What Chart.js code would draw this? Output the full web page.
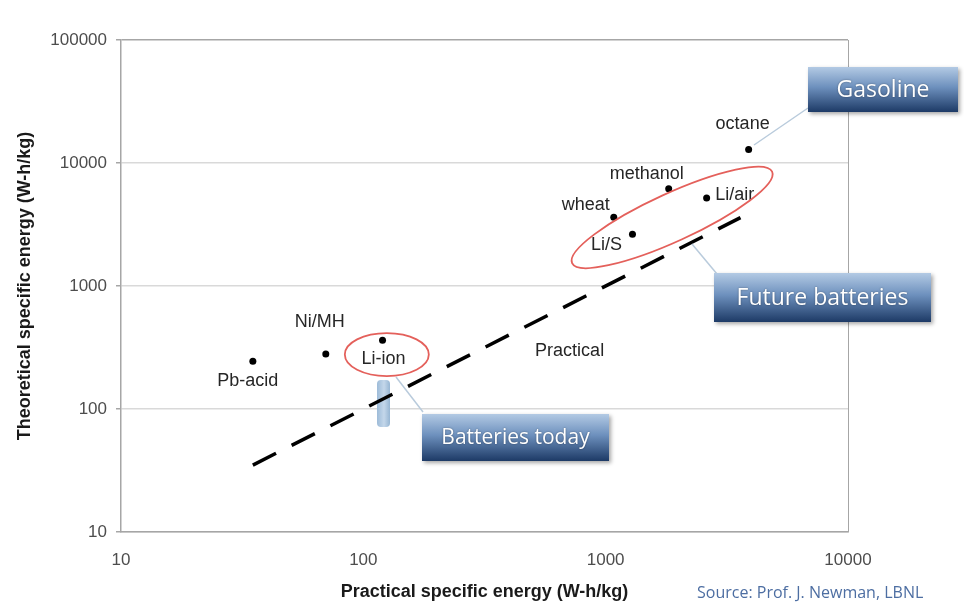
<!DOCTYPE html>
<html>
  <head>
    <title>Theoretical vs practical specific energy</title>
    <script src="https://cdn.jsdelivr.net/npm/chart.js"></script>
    <style>
      html, body { margin: 0; padding: 0; background: #fff; }
    </style>
  </head>

  <body>
    <canvas id="energyChart" width="964" height="609"></canvas>
    <script>
      // values
      var names = ["Pb-acid", "Ni/MH", "Li-ion", "wheat", "Li/S", "methanol", "Li/air", "octane"];
      var practical = [35, 70, 120, 1080, 1290, 1820, 2610, 3890];
      var theoretical = [245, 280, 363, 3630, 2640, 6170, 5190, 12900];
      var trendX = [35, 3600];
      var trendY = [35, 3600];
      var xTicks = [10, 100, 1000, 10000];
      var yTicks = [10, 100, 1000, 10000, 100000];

      var points = names.map(function (n, i) {
        return { x: practical[i], y: theoretical[i] };
      });
      var trend = trendX.map(function (x, i) {
        return { x: x, y: trendY[i] };
      });

      // where each label sits relative to its dot (px)
      var labelShift = {
        "Pb-acid": [-5, 20], "Ni/MH": [-6, -32], "Li-ion": [1, 19], "wheat": [-28, -12],
        "Li/S": [-26, 11], "methanol": [-22, -15], "Li/air": [28, -3], "octane": [-6, -25]
      };

      function drawBox(ctx, x, y, w, h, text, size) {
        ctx.save();
        ctx.shadowColor = "rgba(0,0,0,0.35)";
        ctx.shadowBlur = 4;
        ctx.shadowOffsetX = 2;
        ctx.shadowOffsetY = 2;
        var g = ctx.createLinearGradient(0, y, 0, y + h);
        g.addColorStop(0, "#b3cae4");
        g.addColorStop(0.45, "#6d90bd");
        g.addColorStop(1, "#1d3a66");
        ctx.fillStyle = g;
        ctx.fillRect(x, y, w, h);
        ctx.restore();
        ctx.save();
        ctx.fillStyle = "#ffffff";
        ctx.shadowColor = "rgba(0,0,0,0.4)";
        ctx.shadowBlur = 2;
        ctx.font = size + "px 'Open Sans'";
        ctx.textAlign = "center";
        ctx.textBaseline = "middle";
        ctx.fillText(text, x + w / 2, y + h / 2 + 1);
        ctx.restore();
      }

      function connector(ctx, x1, y1, x2, y2) {
        ctx.save();
        ctx.strokeStyle = "#b9cbdc";
        ctx.lineWidth = 1.5;
        ctx.beginPath();
        ctx.moveTo(x1, y1);
        ctx.lineTo(x2, y2);
        ctx.stroke();
        ctx.restore();
      }

      var annotations = {
        id: "annotations",
        beforeDatasetsDraw: function (chart) {
          // little up arrow under Li-ion, sits behind the dashed line
          var ctx = chart.ctx;
          ctx.save();
          var ag = ctx.createLinearGradient(377, 0, 391, 0);
          ag.addColorStop(0, "#9dbbd8");
          ag.addColorStop(0.5, "#c4d7ea");
          ag.addColorStop(1, "#8fb0cf");
          ctx.fillStyle = ag;
          ctx.beginPath();
          ctx.roundRect(377, 380, 13, 47, 4);
          ctx.fill();
          ctx.restore();
        },
        afterDatasetsDraw: function (chart) {
          var ctx = chart.ctx;
          var xs = chart.scales.x;
          var ys = chart.scales.y;

          // point labels
          ctx.save();
          ctx.fillStyle = "#262626";
          ctx.font = "18px 'Liberation Sans', Arial";
          ctx.textAlign = "center";
          ctx.textBaseline = "middle";
          names.forEach(function (n, i) {
            var px = xs.getPixelForValue(practical[i]);
            var py = ys.getPixelForValue(theoretical[i]);
            ctx.fillText(n, px + labelShift[n][0], py + labelShift[n][1]);
          });
          ctx.fillText("Practical", xs.getPixelForValue(710), ys.getPixelForValue(295));
          ctx.restore();

          // connectors
          connector(ctx, 808, 108, 754, 145);
          connector(ctx, 717, 274, 692, 244);
          connector(ctx, 423, 412, 396, 377);

          // red ellipses
          ctx.save();
          ctx.strokeStyle = "#e4605b";
          ctx.lineWidth = 1.8;
          ctx.beginPath();
          ctx.ellipse(xs.getPixelForValue(125), ys.getPixelForValue(277), 42, 21.5, 0, 0, Math.PI * 2);
          ctx.stroke();
          ctx.beginPath();
          ctx.ellipse(xs.getPixelForValue(1880), ys.getPixelForValue(3610), 110, 24, -24.6 * Math.PI / 180, 0, Math.PI * 2);
          ctx.stroke();
          ctx.restore();

          drawBox(ctx, 808, 67, 150, 45, "Gasoline", 23);
          drawBox(ctx, 714, 273, 217, 49, "Future batteries", 23);
          drawBox(ctx, 422, 414, 187, 47, "Batteries today", 21);
        },
        afterDraw: function (chart) {
          var ctx = chart.ctx;
          ctx.save();
          ctx.fillStyle = "#4d6ea2";
          ctx.font = "16px 'Open Sans'";
          ctx.textAlign = "left";
          ctx.textBaseline = "middle";
          ctx.fillText("Source: Prof. J. Newman, LBNL", 697, 593);
          ctx.restore();
        }
      };

      var ctx = document.getElementById("energyChart").getContext("2d");
      var energyChart = new Chart(ctx, {
        type: "scatter",
        data: {
          datasets: [
            {
              label: "Energy",
              data: points,
              pointRadius: 3.5,
              pointBackgroundColor: "#000",
              pointBorderWidth: 0,
              order: 1
            },
            {
              type: "line",
              label: "Practical",
              data: trend,
              borderColor: "#000",
              borderWidth: 3.5,
              borderDash: [26, 17.5],
              borderCapStyle: "butt",
              pointRadius: 0,
              fill: false,
              order: 2
            }
          ]
        },
        options: {
          responsive: false,
          animation: false,
          layout: { padding: { left: 0, top: 40, right: 116, bottom: 0 } },
          plugins: { legend: { display: false }, tooltip: { enabled: false } },
          scales: {
            x: {
              type: "logarithmic",
              min: 10,
              max: 10000,
              afterBuildTicks: function (scale) {
                scale.ticks = xTicks.map(function (v) { return { value: v }; });
              },
              afterFit: function (scale) { scale.height = 77; },
              ticks: {
                callback: function (v) { return String(v); },
                color: "#4d4d4d",
                font: { family: "'Liberation Sans', Arial", size: 17 },
                padding: 18,
                maxRotation: 0
              },
              grid: {
                drawTicks: false,
                color: function (c) {
                  return c.tick && c.tick.value === 10000 ? "#a6a6a6" : "rgba(0,0,0,0)";
                }
              },
              border: { color: "#a6a6a6", width: 1.5 },
              title: {
                display: true,
                text: "Practical specific energy (W-h/kg)",
                color: "#1a1a1a",
                font: { family: "'Liberation Sans', Arial", size: 18, weight: "bold" },
                padding: { top: 0, bottom: 6 }
              }
            },
            y: {
              type: "logarithmic",
              min: 10,
              max: 100000,
              afterBuildTicks: function (scale) {
                scale.ticks = yTicks.map(function (v) { return { value: v }; });
              },
              afterFit: function (scale) { scale.width = 121; },
              ticks: {
                callback: function (v) { return String(v); },
                color: "#4d4d4d",
                font: { family: "'Liberation Sans', Arial", size: 17 },
                padding: 9
              },
              grid: {
                tickLength: 5,
                tickColor: "#a6a6a6",
                color: function (c) {
                  return c.tick && c.tick.value === 100000 ? "#a6a6a6" : "#d9d9d9";
                },
                lineWidth: 1.5
              },
              border: { color: "#a6a6a6", width: 1.5 },
              title: {
                display: true,
                text: "Theoretical specific energy (W-h/kg)",
                color: "#1a1a1a",
                font: { family: "'Liberation Sans', Arial", size: 18, weight: "bold" },
                padding: { top: 14, bottom: 0 }
              }
            }
          }
        },
        plugins: [annotations]
      });
    </script>
  </body>
</html>
